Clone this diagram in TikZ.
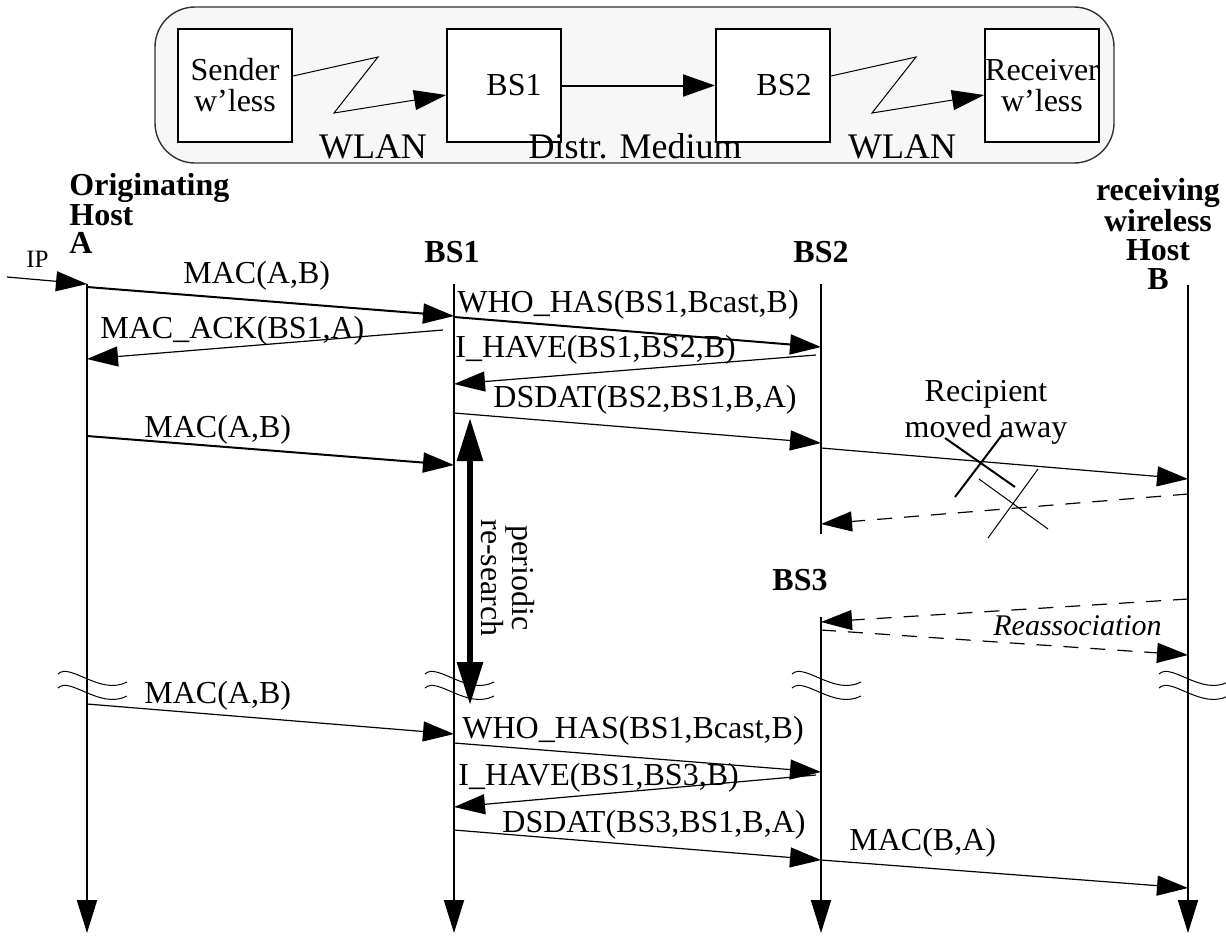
\documentclass[tikz,border=0pt]{standalone}
\usepackage{fontspec}
\setmainfont{Liberation Serif}
\usepackage{tikz}
\usetikzlibrary{positioning,arrows.meta,calc}

\begin{document}
\begin{tikzpicture}[x=0.5pt, y=-0.5pt,
    font=\fontsize{16}{15.5}\selectfont,
    msgtip/.style={-{Triangle[length=15.5pt,width=10pt]}},
    lifeline/.style={line width=1pt, -{Triangle[length=16.5pt,width=10pt]}},
    msg/.style={line width=0.6pt, msgtip},
    msgbold/.style={line width=1pt, msgtip},
    dashmsg/.style={msg, dash pattern=on 7.5pt off 6pt},
    hostbox/.style={draw, line width=1pt, fill=white, minimum width=57pt,
                    minimum height=56.5pt, inner sep=0pt, align=center},
    wless/.style={line width=0.5pt, -{Triangle[length=16pt,width=10pt]}},
    lbl/.style={anchor=base west, inner sep=0pt},
    linklbl/.style={anchor=base, inner sep=0pt, font=\fontsize{18}{18}\selectfont},
    hosthead/.style={inner sep=0pt, font=\fontsize{16}{14}\selectfont\bfseries},
    node distance=76.5pt]
  \useasboundingbox (0,0) rectangle (1226,938);

  % distribution medium overview
  \draw[line width=0.7pt, black!80, fill=black!3, rounded corners=20pt]
        (155,7) rectangle (1114,163);
  \node[hostbox] (sender) at (235,85.5) {Sender\\w'less};
  \node[hostbox, right=of sender, label={[xshift=5pt]center:BS1}] (ap1) {};
  \node[hostbox, right=of ap1, label={[xshift=5.5pt]center:BS2}] (ap2) {};
  \node[hostbox, right=of ap2] (receiver) {Receiver\\w'less};
  \draw[wless] ([yshift=4.75pt]sender.east) -- ++(85,-19) -- ++(-44,56)
        -- ([yshift=-4.75pt]ap1.west);
  \draw[line width=1pt, -{Triangle[length=16pt,width=11pt]}] (ap1) -- (ap2);
  \draw[wless] ([yshift=4.75pt]ap2.east) -- ++(85,-19) -- ++(-44,56)
        -- ([yshift=-4.75pt]receiver.west);
  \node[linklbl] (wlan1) at (373,158) {WLAN};
  \node[linklbl] (distr) at (635,158) {Distr. Medium};
  \node[linklbl] (wlan2) at (902,158) {WLAN};

  % stations
  \node[hosthead, align=left, anchor=south west] (hA) at (69,254) {Originating\\Host\\A};
  \node[hosthead, anchor=base] (hBS1) at (452,262) {BS1};
  \node[hosthead, anchor=base] (hBS2) at (821,262) {BS2};
  \node[hosthead, anchor=base] (hBS3) at (800,590) {BS3};
  \node[hosthead, align=center, anchor=south, font=\fontsize{16}{14.5}\selectfont\bfseries]
        (hB) at (1158,290) {receiving\\wireless\\Host\\B};

  \coordinate (A)   at (87,284);
  \coordinate (BS1) at (454,284);
  \coordinate (BS2) at (821,284);
  \coordinate (BS3) at (821,617);
  \coordinate (B)   at (1188,285);
  \draw[lifeline] (A) -- (A |- 0,933);
  \draw[lifeline] (BS1) -- (BS1 |- 0,933);
  \draw[line width=1pt] (BS2) -- (BS2 |- 0,534);
  \draw[lifeline] (BS3) -- (BS3 |- 0,933);
  \draw[lifeline] (B) -- (B |- 0,933);

  % time breaks
  \foreach \x in {87,454,821,1188}
    \foreach \y in {674,688}
      \draw[line width=0.5pt] (\x-29,\y) .. controls (\x-17,\y-12) and (\x+13,\y+22) .. (\x+40,\y+8);

  % first delivery attempt
  \coordinate (ip) at (7,277);
  \draw[msg] (ip) -- (A);
  \node[lbl, font=\fontsize{12.5}{12.5}\selectfont] (iplbl) at (26,267) {IP};
  \draw[msgbold] (A |- 0,287) -- (BS1 |- 0,316);
  \node[lbl] (mac1) at (183,283) {MAC(A,B)};
  \draw[msgbold] (BS1 |- 0,317) -- (BS2 |- 0,347);
  \node[lbl] (who1) at (457,312) {WHO\_HAS(BS1,Bcast,B)};
  \draw[msg] ($(BS1 |- 0,330)+(-11,0)$) -- (A |- 0,359);
  \node[lbl] (ack1) at (100,338) {MAC\_ACK(BS1,A)};
  \draw[msg] ($(BS2 |- 0,355)+(-5,0)$) -- (BS1 |- 0,384);
  \node[lbl] (have1) at (455,357) {I\_HAVE(BS1,BS2,B)};
  \draw[msg] (BS1 |- 0,413) -- (BS2 |- 0,443);
  \node[lbl] (dsdat1) at (493,407) {DSDAT(BS2,BS1,B,A)};
  \draw[msgbold] (A |- 0,436) -- (BS1 |- 0,465);
  \node[lbl] (mac2) at (144,437) {MAC(A,B)};

  % lost frame
  \draw[msg] (BS2 |- 0,448) -- (B |- 0,479);
  \node[align=center, anchor=south, inner sep=0pt, font=\fontsize{16}{18}\selectfont]
        (moved) at (986,445) {Recipient\\moved away};
  \draw[line width=1pt] (945,438) -- (1015,487) (955,497) -- (1002,435);
  \draw[dashmsg] (B |- 0,494) -- (BS2 |- 0,524);
  \draw[line width=0.5pt] (979,479) -- (1048,529) (1038,469) -- (988,538);

  % reassociation with BS3
  \draw[dashmsg] (B |- 0,599) -- (BS3 |- 0,622);
  \draw[dashmsg] (BS3 |- 0,630) -- (B |- 0,655);
  \node[lbl, font=\fontsize{15}{15}\selectfont\itshape] (reassoc) at (993,635) {Reassociation};

  % periodic re-search
  \coordinate (rs1) at (470,418);
  \coordinate (rs2) at (470,705);
  \draw[line width=3pt, {Triangle[length=21.5pt,width=12.5pt]}-{Triangle[length=21.5pt,width=12.5pt]}]
        (rs1) -- (rs2);
  \node[rotate=-90, align=center, inner sep=0pt, font=\fontsize{16}{14}\selectfont]
        (rslbl) at (508,578) {periodic\\re-search};

  % second delivery
  \draw[msg] (A |- 0,704) -- (BS1 |- 0,734);
  \node[lbl] (mac3) at (144,703) {MAC(A,B)};
  \draw[msg] (BS1 |- 0,743) -- (BS2 |- 0,772);
  \node[lbl] (who2) at (462,738) {WHO\_HAS(BS1,Bcast,B)};
  \draw[msg] ($(BS2 |- 0,775)+(-5,0)$) -- (BS1 |- 0,807);
  \node[lbl] (have2) at (458,785) {I\_HAVE(BS1,BS3,B)};
  \draw[msg] (BS1 |- 0,830) -- (BS2 |- 0,860);
  \node[lbl] (dsdat2) at (502,832) {DSDAT(BS3,BS1,B,A)};
  \draw[msg] (BS2 |- 0,860) -- (B |- 0,888);
  \node[lbl] (mac4) at (849,850) {MAC(B,A)};
\end{tikzpicture}
\end{document}
